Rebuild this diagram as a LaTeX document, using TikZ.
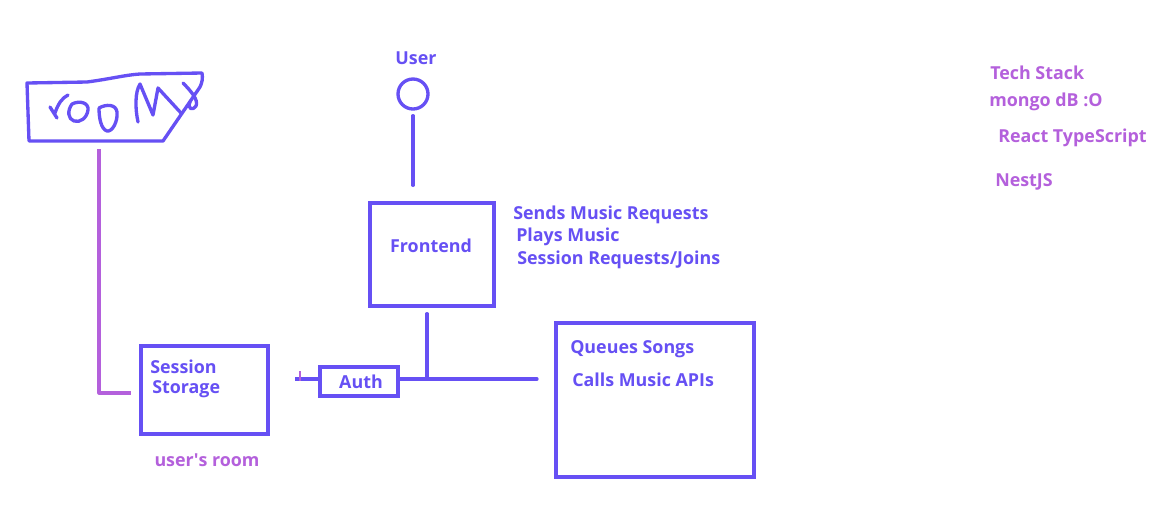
\documentclass[tikz,border=0pt]{standalone}
\usepackage{fontspec}
\setmainfont{Open Sans}
\definecolor{ink}{RGB}{102,80,244}
\definecolor{plum}{RGB}{180,96,220}
\begin{document}
\begin{tikzpicture}[x=0.75pt,y=-0.75pt,
  line/.style={draw=ink, line width=2.5pt, line cap=round, line join=round},
  pline/.style={draw=plum, line width=2.4pt, line join=round},
  boxed/.style={draw=ink, line width=2.5pt, inner sep=0pt},
  lbl/.style={text=ink, font=\bfseries\fontsize{13.4}{16}\selectfont, inner sep=0pt, anchor=west},
  plbl/.style={lbl, text=plum}]
\fill[white] (0,0) rectangle (1168,508);
\useasboundingbox (0,0) rectangle (1168,508);

% hand-drawn "room" box
\draw[line] (27,83) -- (87,82) .. controls (110,79) and (125,75) .. (140,74) -- (202,73)
  .. controls (203,78) and (202,83) .. (200,87) -- (163,141) -- (29,141) -- cycle;
\draw[line] (50,107) -- (57,118);
\draw[line] (55,113) .. controls (58,104) and (62,98) .. (68,95);
\draw[line] (72,104) .. controls (80,100) and (89,103) .. (88,110)
  .. controls (87,118) and (80,123) .. (74,121) .. controls (68,119) and (67,111) .. (72,104);
\draw[line] (99,108) .. controls (106,104) and (116,104) .. (117,112)
  .. controls (118,122) and (112,132) .. (107,131) .. controls (101,129) and (99,118) .. (99,108);
\draw[line] (138,122) .. controls (135,108) and (135,92) .. (140,84)
  -- (153,115) -- (158,88) -- (181,113);
\draw[line] (183,83) .. controls (190,90) and (199,100) .. (196,106)
  .. controls (193,111) and (187,109) .. (190,102);
\coordinate (roombot) at (99,149);

% user
\node[boxed, circle, minimum size=22.5pt] (user) at (413,94) {};
\node[lbl, anchor=center] (usertxt) at (416,58) {User};

% frontend
\node[boxed, minimum width=93pt, minimum height=77.25pt] (fe) at (432,254.5) {};
\node[lbl, anchor=center] (fetxt) at (431,246) {Frontend};
\node[lbl] (t1) at (513,215) {Sends Music Requests};
\node[lbl] (t2) at (516,237) {Plays Music};
\node[lbl] (t3) at (517,260) {Session Requests/Joins};

% session storage
\node[boxed, minimum width=95.25pt, minimum height=66pt] (ss) at (204.5,390) {};
\node[lbl] (sst1) at (150,367) {Session};
\node[lbl] (sst2) at (152,389) {Storage};
\node[plbl, anchor=center] (room) at (207,460) {user\textquotesingle s room};

% auth
\node[boxed, minimum width=58.5pt, minimum height=21.75pt, text=ink,
  font=\bfseries\fontsize{13.4}{16}\selectfont] (auth) at (359,381.5) {\hspace*{3pt}Auth};

% big box
\node[boxed, minimum width=148.5pt, minimum height=115.5pt] (svc) at (655,400) {};
\node[lbl] (s1) at (570,349) {Queues Songs};
\node[lbl] (s2) at (572,380) {Calls Music APIs};

% tech stack
\node[plbl] (k0) at (990,73) {Tech Stack};
\node[plbl] (k1) at (989,102) {mongo dB :O};
\node[plbl] (k2) at (998,138) {React TypeScript};
\node[plbl] (k3) at (995,182) {NestJS};

% connectors
\coordinate (j) at (427,379);
\coordinate (q) at (537,379);
\coordinate (p) at (295,379);
\draw[line] ([yshift=-3.75pt]user.south) -- ([yshift=12pt]fe.north -| user.south);
\draw[line] ([yshift=-4.5pt]fe.south -| j) -- (j);
\draw[line] (auth.east |- q) -- (q);
\draw[line, line cap=butt] (auth.west |- p) -- (p);
\draw[draw=plum, line width=1.8pt] (300,371) -- (300,381);
\draw[pline] (roombot) |- ([xshift=-6pt]ss.west |- 0,393);
\end{tikzpicture}
\end{document}
